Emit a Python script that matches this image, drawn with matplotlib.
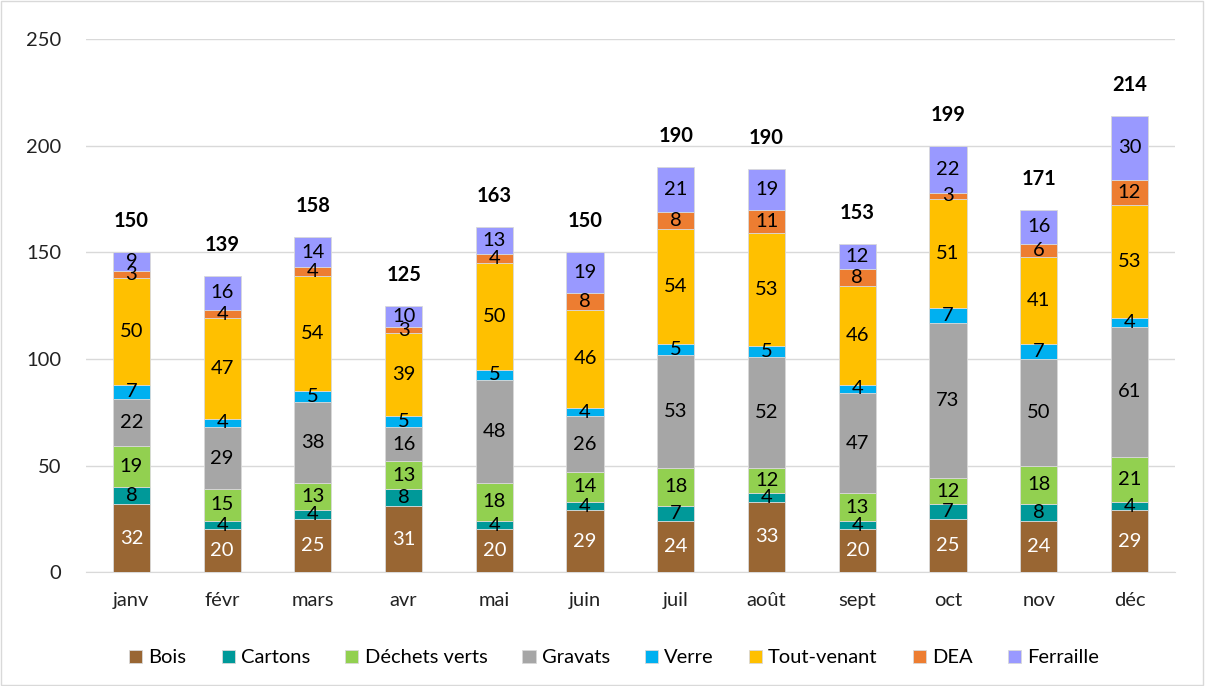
import numpy as np
import matplotlib
matplotlib.use("Agg")
import matplotlib.pyplot as plt
from matplotlib.patches import Rectangle

# Monthly tonnages per waste stream
months = ["janv", "févr", "mars", "avr", "mai", "juin",
          "juil", "août", "sept", "oct", "nov", "déc"]
bois = [32, 20, 25, 31, 20, 29, 24, 33, 20, 25, 24, 29]
cartons = [8, 4, 4, 8, 4, 4, 7, 4, 4, 7, 8, 4]
dechets_verts = [19, 15, 13, 13, 18, 14, 18, 12, 13, 12, 18, 21]
gravats = [22, 29, 38, 16, 48, 26, 53, 52, 47, 73, 50, 61]
verre = [7, 4, 5, 5, 5, 4, 5, 5, 4, 7, 7, 4]
tout_venant = [50, 47, 54, 39, 50, 46, 54, 53, 46, 51, 41, 53]
dea = [3, 4, 4, 3, 4, 8, 8, 11, 8, 3, 6, 12]
ferraille = [9, 16, 14, 10, 13, 19, 21, 19, 12, 22, 16, 30]
totals = [150, 139, 158, 125, 163, 150, 190, 190, 153, 199, 171, 214]

series = [
    ("Bois", bois, "#996633", "white"),
    ("Cartons", cartons, "#009999", "black"),
    ("Déchets verts", dechets_verts, "#92D050", "black"),
    ("Gravats", gravats, "#A6A6A6", "black"),
    ("Verre", verre, "#00B0F0", "black"),
    ("Tout-venant", tout_venant, "#FFC000", "black"),
    ("DEA", dea, "#ED7D31", "black"),
    ("Ferraille", ferraille, "#9999FF", "black"),
]

plt.rcParams["font.family"] = ["Lato", "DejaVu Sans"]
FS = 14.5

fig = plt.figure(figsize=(12.05, 6.86), dpi=100)
ax = fig.add_axes([0.0714, 0.166, 0.9036, 0.777])

x = np.arange(len(months))
bottom = np.zeros(len(months))
for name, vals, color, txt_color in series:
    vals = np.array(vals, dtype=float)
    ax.bar(x, vals, width=0.41, bottom=bottom, color=color,
           edgecolor="#D9D9D9", linewidth=0.6, label=name, zorder=3)
    for xi, b, v in zip(x, bottom, vals):
        ax.text(xi, b + v / 2, f"{v:.0f}", ha="center", va="center",
                fontsize=FS, color=txt_color, zorder=4)
    bottom += vals

# totals above each stack
for xi, top, tot in zip(x, bottom, totals):
    ax.text(xi, top + 14.5, str(tot), ha="center", va="center",
            fontsize=FS, fontweight="bold", color="black", zorder=5)

ax.set_xlim(-0.5, len(months) - 0.5)
ax.set_ylim(0, 250)
ax.set_yticks(np.arange(0, 251, 50))
ax.set_xticks(x)
ax.set_xticklabels(months)
ax.tick_params(axis="both", length=0, labelsize=FS, colors="#222222")
ax.tick_params(axis="x", pad=14)
ax.tick_params(axis="y", pad=18)
ax.grid(axis="y", color="#D9D9D9", linewidth=1, zorder=0)
for side in ["top", "right", "left"]:
    ax.spines[side].set_visible(False)
ax.spines["bottom"].set_color("#D9D9D9")

ax.legend(loc="center", bbox_to_anchor=(0.485, -0.161), ncol=8,
          frameon=False, fontsize=FS, handlelength=0.65, handleheight=0.65,
          handletextpad=0.3, columnspacing=1.75)

# thin chart border
fig.patches.append(Rectangle((0.001, 0.001), 0.997, 0.997, transform=fig.transFigure,
                             fill=False, edgecolor="#D9D9D9", linewidth=1))

fig.savefig("out.png", dpi=100)
